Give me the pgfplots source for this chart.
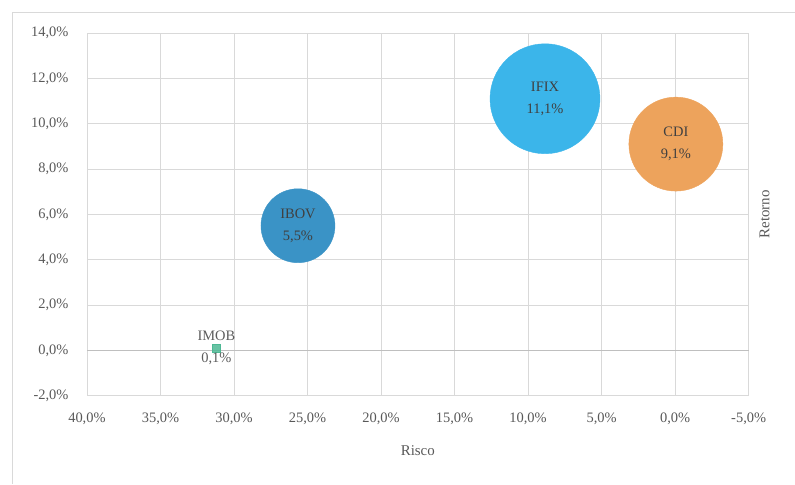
\documentclass[border=0pt]{standalone}
\usepackage{fontspec}
\setmainfont{Liberation Serif}
\usepackage{pgfplots}
\pgfplotsset{compat=1.18}

\definecolor{gridgray}{HTML}{D9D9D9}
\definecolor{zerogray}{HTML}{BFBFBF}
\definecolor{txtgray}{HTML}{595959}
\definecolor{lbl}{HTML}{404040}
\definecolor{cIMOB}{HTML}{4DB894}
\definecolor{cIBOV}{HTML}{3A93C6}
\definecolor{cIFIX}{HTML}{3BB5EA}
\definecolor{cCDI}{HTML}{EDA35C}

\begin{document}
\begin{tikzpicture}
\begin{axis}[
    name=ax,
    scale only axis,
    width=662bp, height=363bp,
    x dir=reverse,
    xmin=-5, xmax=40,
    ymin=-2, ymax=14,
    xtick={-5,0,...,40},
    ytick={-2,0,...,14},
    grid=major,
    grid style={color=gridgray, line width=0.7pt},
    axis line style={color=gridgray, line width=0.7pt},
    major tick length=0pt,
    extra y ticks={0},
    extra y tick labels={},
    extra y tick style={grid style={color=zerogray, line width=0.7pt}},
    /pgf/number format/assume math mode=true,
    xticklabel={\pgfmathprintnumber[fixed,fixed zerofill,precision=1,use comma]{\tick}\%},
    yticklabel={\pgfmathprintnumber[fixed,fixed zerofill,precision=1,use comma]{\tick}\%},
    ticklabel style={font=\fontsize{14.5}{17}\selectfont, text=txtgray},
    yticklabel style={xshift=-15bp},
    xticklabel style={yshift=-14bp},
    xlabel={Risco},
    ylabel={Retorno},
    label style={font=\fontsize{15}{18}\selectfont, text=txtgray},
    xlabel style={at={(rel axis cs:0.5,0)}, anchor=center, yshift=-55bp},
    ylabel style={at={(rel axis cs:1,0.5)}, anchor=center, yshift=-16bp},
    every node near coord/.append style={anchor=center, align=center,
        font=\fontsize{14.5}{22}\selectfont, text=lbl},
]
\addplot[only marks, mark=square*, mark size=4bp, color=cIMOB, fill opacity=0.85,
    nodes near coords={IMOB\\0,1\%}] coordinates {(31.2,0.1)};
\addplot[only marks, mark=*, mark size=37bp, color=cIBOV,
    nodes near coords={IBOV\\5,5\%}] coordinates {(25.65,5.5)};
\addplot[only marks, mark=*, mark size=55bp, color=cIFIX,
    nodes near coords={IFIX\\11,1\%}] coordinates {(8.85,11.1)};
\addplot[only marks, mark=*, mark size=47bp, color=cCDI,
    nodes near coords={CDI\\9,1\%}] coordinates {(-0.05,9.1)};
\end{axis}
% chart area frame
\draw[color=gridgray, line width=0.7pt]
    ([shift={(-75bp,-88bp)}]ax.south west) -- ([shift={(-75bp,21bp)}]ax.north west)
    -- ([shift={(46bp,21bp)}]ax.north east);
\path ([shift={(-87bp,-88bp)}]ax.south west) rectangle ([shift={(46bp,33bp)}]ax.north east);
\end{tikzpicture}
\end{document}
